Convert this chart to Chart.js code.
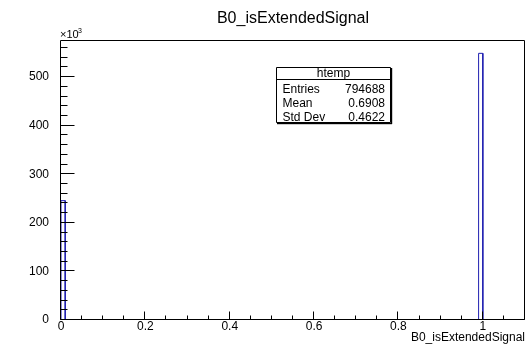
<!DOCTYPE html>
<html><head><meta charset="utf-8">
<script src="https://cdn.jsdelivr.net/npm/chart.js@4/dist/chart.umd.min.js"></script>
<style>html,body{margin:0;padding:0;background:#fff}#c{display:block}</style>
</head>
<body><canvas id="c" width="529" height="345"></canvas>
<script>
const chartTitle = 'B0_isExtendedSignal';
const xAxisTitle = 'B0_isExtendedSignal';
const binWidth = 0.01;
const binLow = [0, 0.99];
const binCount = [245718, 548970];
const xMin = 0, xMax = 1.1;
const xTickValues = [0, 0.2, 0.4, 0.6, 0.8, 1];
const xTickLabels = ['0', '0.2', '0.4', '0.6', '0.8', '1'];
const yTickValues = [0, 100000, 200000, 300000, 400000, 500000];
const yTickLabels = ['0', '100', '200', '300', '400', '500'];
const statsTitle = 'htemp';
const statsNames = ['Entries', 'Mean', 'Std Dev'];
const statsValues = ['794688', '0.6908', '0.4622'];

const yMax = 1.05 * Math.max(...binCount);
const FONT = "'Liberation Sans', Arial, Helvetica, sans-serif";
const lineColor = '#1f1fb0';

// build histogram step outline from bins
const pts = [{x: xMin, y: 0}];
binLow.forEach((lo, i) => {
  const hi = lo + binWidth;
  pts.push({x: lo, y: 0}, {x: lo, y: binCount[i]}, {x: hi, y: binCount[i]}, {x: hi, y: 0});
});
pts.push({x: xMax, y: 0});

Chart.defaults.font.family = FONT;
Chart.defaults.font.size = 12;
Chart.defaults.color = '#000';

const rootPlugin = {
  id: 'rootPlugin',
  afterDraw(chart) {
    const ctx = chart.ctx;
    const a = chart.chartArea;
    const xs = chart.scales.x, ys = chart.scales.y;
    ctx.save();
    ctx.strokeStyle = '#000';
    ctx.lineWidth = 1;
    // frame
    ctx.beginPath();
    ctx.rect(Math.round(a.left) - 0.5, Math.round(a.top) + 0.5, Math.round(a.right - a.left), Math.round(a.bottom - a.top) - 1);
    ctx.stroke();
    // y ticks
    ctx.beginPath();
    const xl = Math.round(a.left) - 0.5;
    for (let v = 0; v <= yMax + 1; v += 20000) {
      const y = Math.round(ys.getPixelForValue(v)) - 0.5;
      const len = (v % 100000 === 0) ? 14 : 7;
      ctx.moveTo(xl, y); ctx.lineTo(xl + len, y);
    }
    // x ticks
    const yb = Math.round(a.bottom) - 0.5;
    for (let k = 0; k <= 22; k++) {
      const v = k * 0.05;
      const x = Math.round(xs.getPixelForValue(v)) - 0.5;
      const len = (k % 4 === 0) ? 8 : 4;
      ctx.moveTo(x, yb); ctx.lineTo(x, yb - len);
    }
    ctx.stroke();

    ctx.fillStyle = '#000';
    // title
    ctx.font = '16px ' + FONT;
    ctx.textAlign = 'center';
    ctx.textBaseline = 'alphabetic';
    ctx.fillText(chartTitle, (a.left + a.right) / 2, 22.5);
    // x axis title
    ctx.font = '12px ' + FONT;
    ctx.textAlign = 'right';
    ctx.fillText(xAxisTitle, a.right, 341);
    // multiplier
    ctx.textAlign = 'left';
    ctx.font = '11px ' + FONT;
    ctx.fillText('\u00d710', a.left - 1, 38);
    ctx.font = '7px ' + FONT;
    ctx.fillText('3', a.left + 17, 33);

    // stats box
    const bx = 276, by = 67, bw = 115, bh = 56;
    ctx.fillStyle = '#fff';
    ctx.fillRect(bx, by, bw, bh);
    ctx.fillStyle = '#000';
    ctx.fillRect(bx + 1, by + bh, bw, 1.2);
    ctx.fillRect(bx + bw, by + 1, 1.2, bh);
    ctx.beginPath();
    ctx.rect(bx + 0.5, by + 0.5, bw - 1, bh - 1);
    ctx.moveTo(bx, by + 12.5); ctx.lineTo(bx + bw, by + 12.5);
    ctx.stroke();
    ctx.font = '12px ' + FONT;
    ctx.textAlign = 'center';
    ctx.fillText(statsTitle, bx + bw / 2, 76.5);
    const rowsY = [93, 107, 121];
    statsNames.forEach((n, i) => {
      ctx.textAlign = 'left';
      ctx.fillText(n, bx + 6.5, rowsY[i]);
      ctx.textAlign = 'right';
      ctx.fillText(statsValues[i], bx + bw - 6, rowsY[i]);
    });
    ctx.restore();
  }
};

new Chart(document.getElementById('c'), {
  type: 'line',
  data: {
    datasets: [{
      data: pts,
      borderColor: lineColor,
      borderWidth: 1,
      pointRadius: 0,
      tension: 0,
      fill: false
    }]
  },
  options: {
    responsive: false,
    animation: false,
    layout: {padding: {top: 40, right: 4, left: 0, bottom: 0}},
    plugins: {legend: {display: false}, tooltip: {enabled: false}, title: {display: false}},
    scales: {
      x: {
        type: 'linear', min: xMin, max: xMax,
        grid: {display: false}, border: {display: false},
        afterBuildTicks(s) { s.ticks = xTickValues.map(v => ({value: v})); },
        afterFit(s) { s.height = 25; },
        ticks: {padding: -9, maxRotation: 0, autoSkip: false, font: {size: 12},
          callback(v, i) { return xTickLabels[i]; }}
      },
      y: {
        type: 'linear', min: 0, max: yMax,
        grid: {display: false}, border: {display: false},
        afterBuildTicks(s) { s.ticks = yTickValues.map(v => ({value: v})); },
        afterFit(s) { s.width = 61; },
        ticks: {padding: 4, autoSkip: false, font: {size: 12},
          callback(v, i) { return yTickLabels[i]; }}
      }
    }
  },
  plugins: [rootPlugin]
});
</script>
</body></html>
